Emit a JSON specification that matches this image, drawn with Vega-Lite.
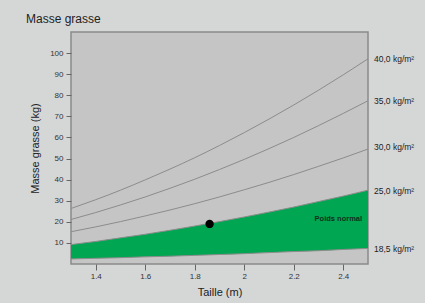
{
  "$schema": "https://vega.github.io/schema/vega-lite/v6.json",
  "width": 297,
  "height": 232,
  "autosize": {"type": "none"},
  "padding": {"left": 71, "top": 32, "right": 57, "bottom": 39},
  "background": "#d5d7d7",
  "config": {
    "font": "Liberation Sans",
    "view": {"fill": "#c5c5c5", "stroke": "#8a8a8a", "strokeWidth": 1.5},
    "axis": {"grid": false, "domain": false, "tickColor": "#666", "labelColor": "#333", "titleColor": "#222", "titleFontWeight": "normal"}
  },
  "title": {"text": "Masse grasse", "anchor": "start", "frame": "group", "dx": -45, "dy": 11, "offset": 8, "baseline": "alphabetic", "fontSize": 12, "fontWeight": "normal", "color": "#222"},
  "datasets": {
    "curves": [
      {"h": 1.3, "bmi": "40", "fm": 26.3}, {"h": 1.4, "bmi": "40", "fm": 30.5}, {"h": 1.5, "bmi": "40", "fm": 35.0}, {"h": 1.6, "bmi": "40", "fm": 39.9}, {"h": 1.7, "bmi": "40", "fm": 45.0}, {"h": 1.8, "bmi": "40", "fm": 50.4}, {"h": 1.9, "bmi": "40", "fm": 56.2}, {"h": 2.0, "bmi": "40", "fm": 62.3}, {"h": 2.1, "bmi": "40", "fm": 68.7}, {"h": 2.2, "bmi": "40", "fm": 75.4}, {"h": 2.3, "bmi": "40", "fm": 82.4}, {"h": 2.4, "bmi": "40", "fm": 89.7}, {"h": 2.5, "bmi": "40", "fm": 97.3},
      {"h": 1.3, "bmi": "35", "fm": 21.1}, {"h": 1.4, "bmi": "35", "fm": 24.4}, {"h": 1.5, "bmi": "35", "fm": 28.0}, {"h": 1.6, "bmi": "35", "fm": 31.8}, {"h": 1.7, "bmi": "35", "fm": 35.9}, {"h": 1.8, "bmi": "35", "fm": 40.2}, {"h": 1.9, "bmi": "35", "fm": 44.8}, {"h": 2.0, "bmi": "35", "fm": 49.6}, {"h": 2.1, "bmi": "35", "fm": 54.7}, {"h": 2.2, "bmi": "35", "fm": 60.0}, {"h": 2.3, "bmi": "35", "fm": 65.6}, {"h": 2.4, "bmi": "35", "fm": 71.4}, {"h": 2.5, "bmi": "35", "fm": 77.4},
      {"h": 1.3, "bmi": "30", "fm": 15.3}, {"h": 1.4, "bmi": "30", "fm": 17.6}, {"h": 1.5, "bmi": "30", "fm": 20.1}, {"h": 1.6, "bmi": "30", "fm": 22.8}, {"h": 1.7, "bmi": "30", "fm": 25.6}, {"h": 1.8, "bmi": "30", "fm": 28.6}, {"h": 1.9, "bmi": "30", "fm": 31.8}, {"h": 2.0, "bmi": "30", "fm": 35.2}, {"h": 2.1, "bmi": "30", "fm": 38.7}, {"h": 2.2, "bmi": "30", "fm": 42.4}, {"h": 2.3, "bmi": "30", "fm": 46.3}, {"h": 2.4, "bmi": "30", "fm": 50.3}, {"h": 2.5, "bmi": "30", "fm": 54.5},
      {"h": 1.3, "bmi": "25", "fm": 9.2}, {"h": 1.4, "bmi": "25", "fm": 10.7}, {"h": 1.5, "bmi": "25", "fm": 12.4}, {"h": 1.6, "bmi": "25", "fm": 14.1}, {"h": 1.7, "bmi": "25", "fm": 16.0}, {"h": 1.8, "bmi": "25", "fm": 18.0}, {"h": 1.9, "bmi": "25", "fm": 20.1}, {"h": 2.0, "bmi": "25", "fm": 22.3}, {"h": 2.1, "bmi": "25", "fm": 24.6}, {"h": 2.2, "bmi": "25", "fm": 27.0}, {"h": 2.3, "bmi": "25", "fm": 29.6}, {"h": 2.4, "bmi": "25", "fm": 32.2}, {"h": 2.5, "bmi": "25", "fm": 35.0},
      {"h": 1.3, "bmi": "18.5", "fm": 2.4}, {"h": 1.4, "bmi": "18.5", "fm": 2.7}, {"h": 1.5, "bmi": "18.5", "fm": 3.0}, {"h": 1.6, "bmi": "18.5", "fm": 3.4}, {"h": 1.7, "bmi": "18.5", "fm": 3.7}, {"h": 1.8, "bmi": "18.5", "fm": 4.1}, {"h": 1.9, "bmi": "18.5", "fm": 4.5}, {"h": 2.0, "bmi": "18.5", "fm": 4.9}, {"h": 2.1, "bmi": "18.5", "fm": 5.4}, {"h": 2.2, "bmi": "18.5", "fm": 5.9}, {"h": 2.3, "bmi": "18.5", "fm": 6.3}, {"h": 2.4, "bmi": "18.5", "fm": 6.9}, {"h": 2.5, "bmi": "18.5", "fm": 7.4}
    ],
    "zone": [
      {"h": 1.3, "lo": 2.4, "hi": 9.2}, {"h": 1.4, "lo": 2.7, "hi": 10.7}, {"h": 1.5, "lo": 3.0, "hi": 12.4}, {"h": 1.6, "lo": 3.4, "hi": 14.1}, {"h": 1.7, "lo": 3.7, "hi": 16.0}, {"h": 1.8, "lo": 4.1, "hi": 18.0}, {"h": 1.9, "lo": 4.5, "hi": 20.1}, {"h": 2.0, "lo": 4.9, "hi": 22.3}, {"h": 2.1, "lo": 5.4, "hi": 24.6}, {"h": 2.2, "lo": 5.9, "hi": 27.0}, {"h": 2.3, "lo": 6.3, "hi": 29.6}, {"h": 2.4, "lo": 6.9, "hi": 32.2}, {"h": 2.5, "lo": 7.4, "hi": 35.0}
    ],
    "labels": [
      {"h": 2.5, "fm": 97.3, "label": "40,0 kg/m²"},
      {"h": 2.5, "fm": 77.4, "label": "35,0 kg/m²"},
      {"h": 2.5, "fm": 55.7, "label": "30,0 kg/m²"},
      {"h": 2.5, "fm": 34.8, "label": "25,0 kg/m²"},
      {"h": 2.5, "fm": 7.2, "label": "18,5 kg/m²"}
    ],
    "point": [{"h": 1.86, "fm": 19.0}],
    "zonelabel": [{"h": 2.38, "fm": 21.2, "label": "Poids normal"}]
  },
  "encoding": {
    "x": {"field": "h", "type": "quantitative", "scale": {"domain": [1.3, 2.5], "nice": false, "zero": false},
      "axis": {"title": "Taille (m)", "values": [1.4, 1.6, 1.8, 2.0, 2.2, 2.4], "format": "~g", "labelFontSize": 8, "tickSize": 6, "labelPadding": 2, "titleFontSize": 11, "titlePadding": 6}},
    "y": {"field": "fm", "type": "quantitative", "scale": {"domain": [0, 110], "nice": false},
      "axis": {"title": "Masse grasse (kg)", "values": [10, 20, 30, 40, 50, 60, 70, 80, 90, 100], "labelFontSize": 8, "tickSize": 5, "labelPadding": 3, "titleFontSize": 11, "titlePadding": 9}}
  },
  "layer": [
    {
      "data": {"name": "zone"},
      "mark": {"type": "area", "color": "#00a651", "interpolate": "monotone"},
      "encoding": {"y": {"field": "hi", "type": "quantitative"}, "y2": {"field": "lo"}}
    },
    {
      "data": {"name": "curves"},
      "mark": {"type": "line", "color": "#8c8c8c", "strokeWidth": 1, "interpolate": "monotone"},
      "encoding": {"detail": {"field": "bmi", "type": "nominal"}}
    },
    {
      "data": {"name": "point"},
      "mark": {"type": "point", "filled": true, "color": "#000", "size": 70, "opacity": 1}
    },
    {
      "data": {"name": "zonelabel"},
      "mark": {"type": "text", "fontSize": 7.5, "fontWeight": "bold", "color": "#10301c", "align": "center", "baseline": "middle"},
      "encoding": {"text": {"field": "label"}}
    },
    {
      "data": {"name": "labels"},
      "mark": {"type": "text", "fontSize": 8.5, "color": "#222", "align": "left", "baseline": "middle", "dx": 6},
      "encoding": {"text": {"field": "label"}}
    }
  ]
}
